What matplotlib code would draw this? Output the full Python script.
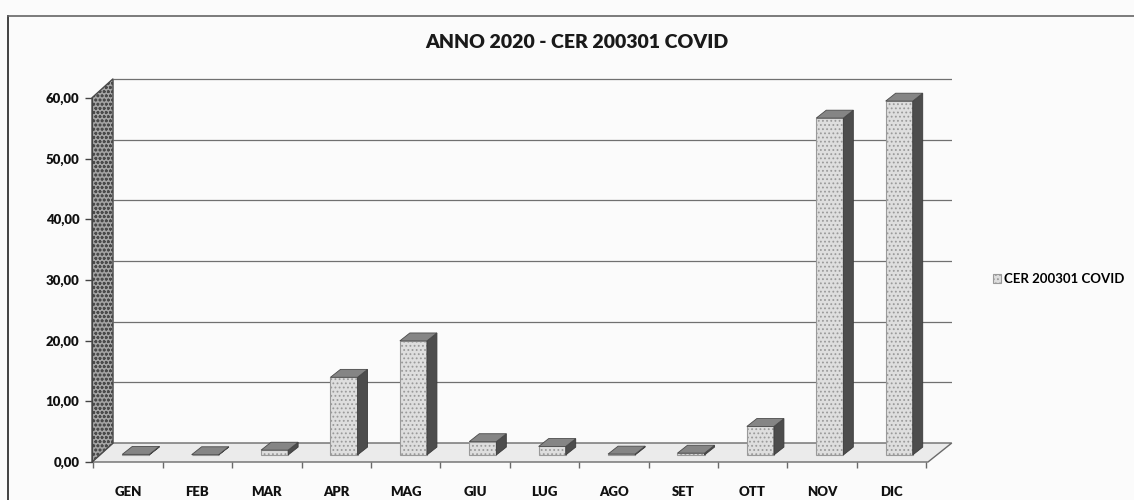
import matplotlib
matplotlib.use("Agg")
import matplotlib.pyplot as plt
from matplotlib.patches import Polygon
from matplotlib.lines import Line2D
from matplotlib.ticker import FixedLocator, FuncFormatter

# ---- data ----
months = ["GEN", "FEB", "MAR", "APR", "MAG", "GIU", "LUG", "AGO", "SET", "OTT", "NOV", "DIC"]
values = [0.1, 0.05, 0.8, 12.8, 18.8, 2.2, 1.4, 0.15, 0.3, 4.7, 55.5, 58.3]
yticks = [0, 10, 20, 30, 40, 50, 60]
title = "ANNO 2020 - CER 200301 COVID"
series_name = "CER 200301 COVID"

plt.rcParams['font.family'] = ['Lato', 'DejaVu Sans']
plt.rcParams['hatch.linewidth'] = 0.8

W, H = 1134, 500
fig = plt.figure(figsize=(W / 100, H / 100), dpi=100)
fig.patch.set_facecolor("#fbfbfb")

ax = fig.add_axes([92 / W, 38 / H, 860 / W, 392 / H])
ax.set_xlim(-0.519, 11.873)
ax.set_ylim(0, 64.58)
ax.set_facecolor("none")

# 3D-look geometry (data units)
DX, DY = 0.303, 3.13          # depth of floor / walls
F = 0.37                      # depth position of bars
BW = 0.39                     # bar width
BDX, BDY = 0.144, 1.3         # bar depth
x0, x1 = -0.519, 11.527       # floor front edge

# floor
floor = Polygon([(x0, 0), (x1, 0), (x1 + DX + 0.04, DY), (x0 + DX, DY)],
                closed=True, facecolor="#ebebeb", edgecolor="#6a6a6a",
                lw=1.0, clip_on=False, zorder=1)
ax.add_patch(floor)

# back wall gridlines
ax.hlines([v + DY for v in yticks[1:]], x0 + DX, 11.873, colors="#707070",
          lw=0.9, zorder=0.5)

# side wall
wall = Polygon([(x0, 0), (x0, yticks[-1]), (x0 + DX, yticks[-1] + DY), (x0 + DX, DY)],
               closed=True, facecolor="#a4a4a4", edgecolor="#4a4a4a", lw=1.0,
               hatch="oooo", clip_on=False, zorder=2)
ax.add_patch(wall)

# bars
xs = [i + F * DX for i in range(len(months))]
base = F * DY
bars = ax.bar(xs, values, width=BW, bottom=base, color="#dedede",
              edgecolor="#9a9a9a", lw=0.8, hatch="....", zorder=3, label=series_name)
for xc, v in zip(xs, values):
    xl, xr = xc - BW / 2, xc + BW / 2
    top = base + v
    side = Polygon([(xr, base), (xr + BDX, base + BDY), (xr + BDX, top + BDY), (xr, top)],
                   closed=True, facecolor="#4d4d4d", edgecolor="#3a3a3a", lw=0.6, zorder=3)
    ax.add_patch(side)
    cap = Polygon([(xl, top), (xr, top), (xr + BDX, top + BDY), (xl + BDX, top + BDY)],
                  closed=True, facecolor="#858585", edgecolor="#4a4a4a", lw=0.6, zorder=3.5)
    ax.add_patch(cap)

# axes styling
for s in ["top", "right", "bottom"]:
    ax.spines[s].set_visible(False)
ax.spines["left"].set_color("#444444")
ax.spines["left"].set_bounds(0, yticks[-1])
ax.set_yticks(yticks)
ax.yaxis.set_major_formatter(FuncFormatter(lambda v, p: f"{v:.2f}".replace(".", ",")))
ax.tick_params(axis="y", length=5, width=1, color="#444444", pad=4,
               labelsize=9.5, labelcolor="#111111")
for t in ax.get_yticklabels():
    t.set_fontweight("heavy")

ax.set_xticks(range(len(months)))
ax.set_xticklabels(months, fontsize=9.5, fontweight="heavy", color="#111111")
ax.xaxis.set_minor_locator(FixedLocator([i - 0.5 for i in range(len(months) + 1)]))
ax.tick_params(axis="x", which="major", length=0, pad=17)
ax.tick_params(axis="x", which="minor", length=4, width=1, color="#6a6a6a", direction="out")

# title
fig.text(577 / W, 1 - 43 / H, title, ha="center", va="center",
         fontsize=14, fontweight="heavy", color="#1a1a1a")

# legend
leg = fig.legend(handles=[bars], labels=[series_name], loc="center left",
                 bbox_to_anchor=(986 / W, 1 - 279 / H), frameon=False,
                 handlelength=0.6, handleheight=0.6, handletextpad=0.3,
                 borderpad=0, prop={"size": 9.5, "weight": "bold"})

# chart frame
fig.add_artist(Line2D([8 / W, 8 / W], [0, 1 - 16 / H], color="#333333", lw=1.3))
fig.add_artist(Line2D([8 / W, 1], [1 - 16 / H, 1 - 16 / H], color="#666666", lw=1.2))

fig.savefig("out.png", dpi=100, facecolor=fig.get_facecolor())
